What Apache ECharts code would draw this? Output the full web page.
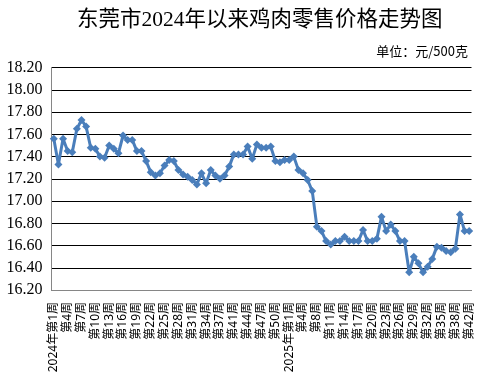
<!DOCTYPE html>
<html>
<head>
<meta charset="utf-8">
<script src="https://cdn.jsdelivr.net/npm/echarts@6/dist/echarts.min.js"></script>
<style>
html,body{margin:0;padding:0;background:#fff;}
#c{width:485px;height:392px;}
</style>
</head>
<body>
<div id="c"></div>
<script>
// Weeks shown (one week missing in each year)
const weeks2024 = [1,2,3,4,5,6,7,8,9,10,11,12,13,14,15,16,17,18,19,20,21,22,23,24,25,26,27,28,29,30,31,32,33,34,35,36,37,38,39,41,42,43,44,45,46,47,48,49,50,51,52];
const weeks2025 = [1,2,3,4,6,7,8,9,10,11,12,13,14,15,16,17,18,19,20,21,22,23,24,25,26,27,28,29,30,31,32,33,34,35,36,37,38,39,41,42];

// Chicken retail price, yuan / 500 g
const prices = [
  17.56,17.33,17.56,17.45,17.44,17.65,17.73,17.67,17.48,17.47,
  17.40,17.39,17.50,17.47,17.43,17.59,17.55,17.55,17.45,17.45,
  17.36,17.26,17.23,17.25,17.32,17.37,17.36,17.28,17.24,17.22,
  17.19,17.15,17.25,17.16,17.28,17.23,17.20,17.23,17.31,17.42,
  17.42,17.42,17.49,17.38,17.51,17.48,17.48,17.49,17.36,17.35,
  17.37,
  17.37,17.40,17.28,17.25,17.19,17.09,16.77,16.73,16.64,16.61,
  16.64,16.64,16.68,16.64,16.64,16.64,16.74,16.64,16.64,16.66,
  16.86,16.73,16.79,16.73,16.64,16.64,16.36,16.50,16.44,16.36,
  16.41,16.48,16.59,16.58,16.55,16.54,16.57,16.88,16.73,16.73
];

const yTicks = ['16.20','16.40','16.60','16.80','17.00','17.20','17.40','17.60','17.80','18.00','18.20'];

const titleText = '东莞市2024年以来鸡肉零售价格走势图';
const unitText = '单位：元/500克';

function weekLabel(year, w) {
  return (w === 1 ? year + '年' : '') + '第' + w + '周';
}
const categories = weeks2024.map(w => weekLabel(2024, w))
  .concat(weeks2025.map(w => weekLabel(2025, w)));

const chart = echarts.init(document.getElementById('c'));
chart.setOption({
  animation: false,
  backgroundColor: '#ffffff',
  title: {
    text: titleText,
    left: 72,
    top: 5,
    textStyle: {
      fontFamily: '"Liberation Serif", "Noto Sans CJK SC"',
      fontSize: 21.5,
      fontWeight: 'normal',
      color: '#000000'
    }
  },
  graphic: [{
    type: 'text',
    right: 17,
    top: 45,
    style: {
      text: unitText,
      fontFamily: '"Noto Sans CJK SC"',
      fontSize: 13,
      fill: '#000000'
    }
  }],
  grid: { left: 51.5, right: 13.5, top: 67.7, bottom: 102, containLabel: false },
  xAxis: {
    type: 'category',
    data: categories,
    boundaryGap: true,
    axisLine: { show: true, lineStyle: { color: '#868686', width: 1 } },
    axisTick: { show: false },
    axisLabel: {
      interval: 2,
      rotate: 90,
      margin: 12,
      fontSize: 12,
      fontFamily: '"Noto Sans", "Noto Sans CJK SC"',
      color: '#000000'
    },
    splitLine: { show: false }
  },
  yAxis: {
    type: 'value',
    min: 16.2,
    max: 18.2,
    interval: 0.2,
    axisLine: { show: true, lineStyle: { color: '#868686', width: 1 } },
    axisTick: { show: false },
    axisLabel: {
      margin: 9,
      fontSize: 16,
      fontFamily: '"Liberation Serif"',
      color: '#000000',
      formatter: function (v) {
        const idx = Math.round((v - 16.2) / 0.2);
        return yTicks[idx] !== undefined ? yTicks[idx] : v.toFixed(2);
      }
    },
    splitLine: { show: true, lineStyle: { color: '#000000', width: 1 } }
  },
  series: [{
    type: 'line',
    data: prices,
    showAllSymbol: true,
    symbol: 'diamond',
    symbolSize: 8,
    lineStyle: { color: '#4a7ebb', width: 3 },
    itemStyle: { color: '#4a7ebb' }
  }]
});
</script>
</body>
</html>
